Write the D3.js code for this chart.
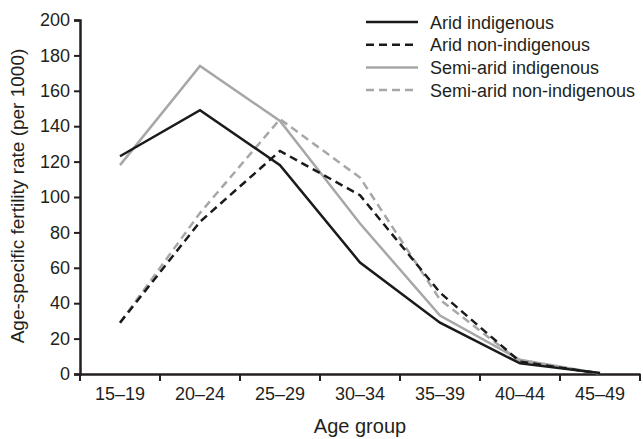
<!DOCTYPE html>
<html>
<head>
<meta charset="utf-8">
<script src="https://cdn.jsdelivr.net/npm/d3@7"></script>
<style>
  body { margin: 0; background: #fff; }
  text { font-family: "Liberation Sans", Arial, sans-serif; fill: #231f20; }
</style>
</head>
<body>
<svg id="chart" width="643" height="439"></svg>
<script>
const ageGroups = ['15–19', '20–24', '25–29', '30–34', '35–39', '40–44', '45–49']
const aridIndigenous = [123, 149, 118, 63, 29, 6, 0.5]
const aridNonIndigenous = [29, 86, 126, 101, 46, 7, 0.3]
const semiAridIndigenous = [118, 174, 143, 85, 33, 8, 0.3]
const semiAridNonIndigenous = [29, 91, 144, 111, 42, 7, 0.3]
const yTicks = [0, 20, 40, 60, 80, 100, 120, 140, 160, 180, 200]

const series = [
  { name: 'Arid indigenous', values: aridIndigenous, color: '#1a1a1a', dash: null },
  { name: 'Arid non-indigenous', values: aridNonIndigenous, color: '#1a1a1a', dash: '8,5' },
  { name: 'Semi-arid indigenous', values: semiAridIndigenous, color: '#a7a7a7', dash: null },
  { name: 'Semi-arid non-indigenous', values: semiAridNonIndigenous, color: '#a7a7a7', dash: '8,5' }
]

const svg = d3.select('#chart')
const margin = { left: 80, top: 20 }

const g = svg.append('g').attr('transform', `translate(${margin.left},${margin.top})`)

const x = d3.scaleBand().domain(ageGroups).range([0, 560])
const y = d3.scaleLinear().domain([0, 200]).range([354, 0])

const xAxis = g.append('g')
  .attr('transform', 'translate(0,354)')
  .call(d3.axisBottom(x).tickSize(0).tickPadding(13))
xAxis.selectAll('text').style('font-size', '18px')
xAxis.select('.domain').attr('stroke', '#231f20').attr('stroke-width', 2.5)
// tick marks on band edges
g.append('g').selectAll('line')
  .data(ageGroups.concat(['end']))
  .join('line')
  .attr('x1', (d, i) => i * x.bandwidth())
  .attr('x2', (d, i) => i * x.bandwidth())
  .attr('y1', 354)
  .attr('y2', 361)
  .attr('stroke', '#231f20')
  .attr('stroke-width', 2)

const yAxis = g.append('g')
  .call(d3.axisLeft(y).tickValues(yTicks).tickSize(6).tickPadding(4))
yAxis.selectAll('text').style('font-size', '18px')
yAxis.select('.domain').attr('stroke', '#231f20').attr('stroke-width', 2.5)
yAxis.selectAll('.tick line').attr('stroke', '#231f20').attr('stroke-width', 2)

const line = d3.line()
  .x((d, i) => x(ageGroups[i]) + x.bandwidth() / 2)
  .y(d => y(d))

// draw grey first then black on top
const order = [2, 3, 0, 1]
order.forEach(k => {
  const s = series[k]
  g.append('path')
    .attr('d', line(s.values))
    .attr('fill', 'none')
    .attr('stroke', s.color)
    .attr('stroke-width', 2.5)
    .attr('stroke-dasharray', s.dash)
})

// legend
const legend = svg.append('g').attr('transform', 'translate(366,22)')
series.forEach((s, i) => {
  const row = legend.append('g').attr('transform', `translate(0,${i * 22.7})`)
  row.append('line')
    .attr('x1', 0).attr('x2', 52)
    .attr('stroke', s.color)
    .attr('stroke-width', 2.5)
    .attr('stroke-dasharray', s.dash)
  row.append('text')
    .attr('x', 64).attr('y', 6.5)
    .style('font-size', '18px')
    .text(s.name)
})

svg.append('text')
  .attr('x', 360).attr('y', 433)
  .attr('text-anchor', 'middle')
  .style('font-size', '20px')
  .text('Age group')

svg.append('text')
  .attr('transform', 'translate(24,196) rotate(-90)')
  .attr('text-anchor', 'middle')
  .style('font-size', '19px')
  .text('Age-specific fertility rate (per 1000)')
</script>
</body>
</html>
